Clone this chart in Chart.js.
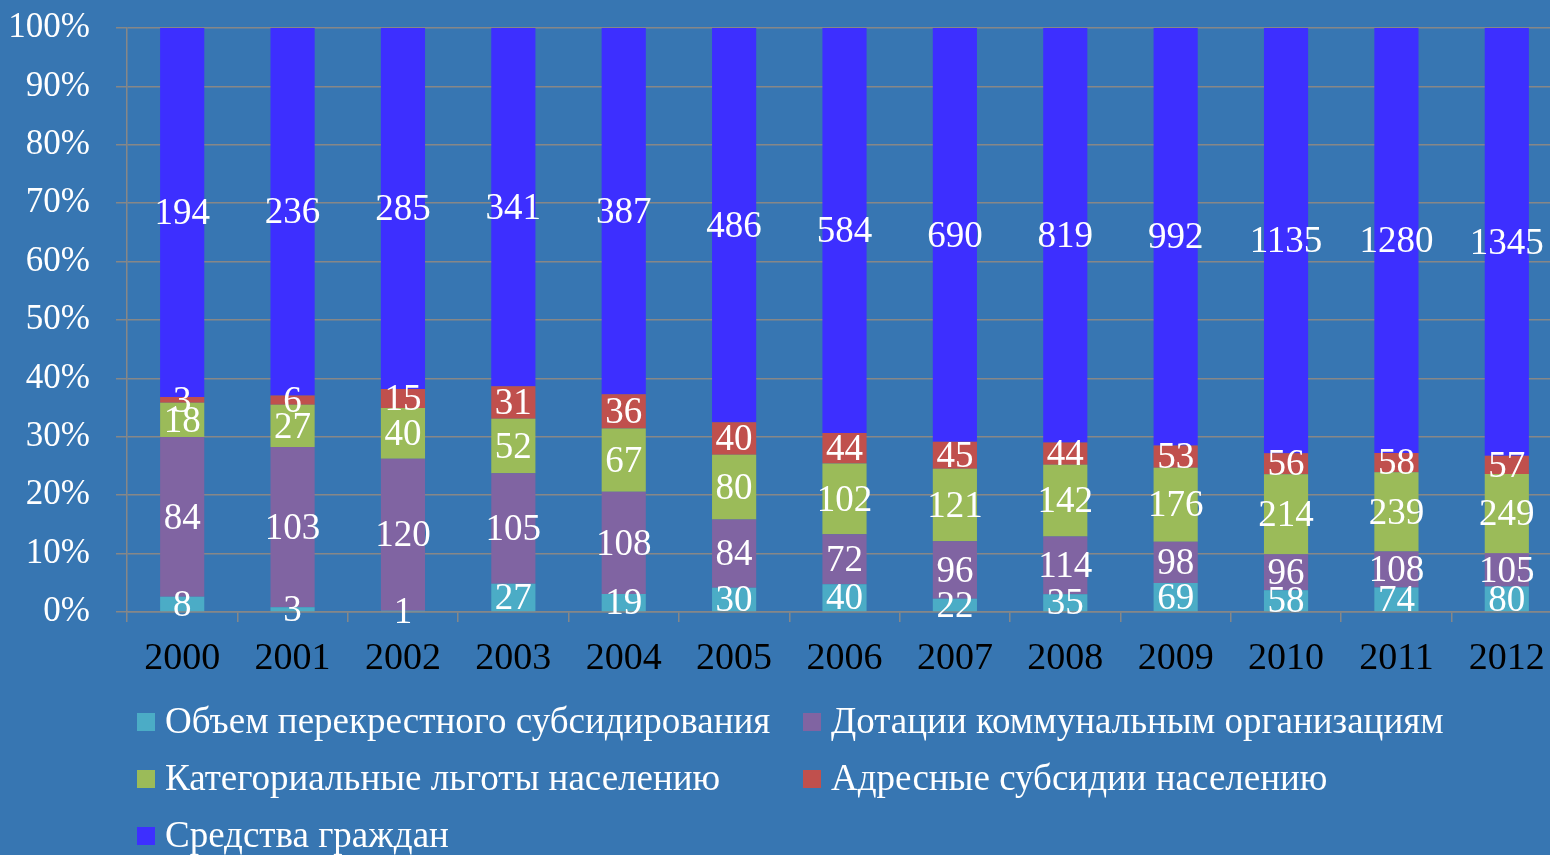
<!DOCTYPE html>
<html lang="ru">
<head>
<meta charset="utf-8">
<title>Структура финансирования ЖКУ</title>
<script src="https://cdn.jsdelivr.net/npm/chart.js@4/dist/chart.umd.min.js"></script>
<style>
    html, body {
        margin: 0;
        padding: 0;
        overflow: hidden;
        background: #3776b2;
    }

    #wrap {
        position: absolute;
        left: 0;
        top: 0;
        width: 1562px;
        height: 855px;
    }
</style>
</head>
<body>

<div id="wrap">
    <canvas id="chart"></canvas>
</div>

<script>
// ==========================================================
// DATA
// ==========================================================

const years = [
    "2000", "2001", "2002", "2003", "2004", "2005", "2006",
    "2007", "2008", "2009", "2010", "2011", "2012"
];

const crossSubsidy = [8, 3, 1, 27, 19, 30, 40, 22, 35, 69, 58, 74, 80];

const utilityGrants = [84, 103, 120, 105, 108, 84, 72, 96, 114, 98, 96, 108, 105];

const categoryBenefits = [18, 27, 40, 52, 67, 80, 102, 121, 142, 176, 214, 239, 249];

const targetedSubsidies = [3, 6, 15, 31, 36, 40, 44, 45, 44, 53, 56, 58, 57];

const citizenFunds = [194, 236, 285, 341, 387, 486, 584, 690, 819, 992, 1135, 1280, 1345];

const seriesNames = [
    "Объем перекрестного субсидирования",
    "Дотации коммунальным организациям",
    "Категориальные льготы населению",
    "Адресные субсидии населению",
    "Средства граждан"
];

const yTicks = [0, 10, 20, 30, 40, 50, 60, 70, 80, 90, 100];

// ==========================================================
// STYLE
// ==========================================================

const FONT = "'Liberation Serif', 'Times New Roman', serif";

const COLORS = ["#4bacc6", "#8064a2", "#9bbb59", "#c0504d", "#3d2fff"];

const GRID_COLOR = "#878787";

// ==========================================================
// PERCENT STACK
// ==========================================================

const rawSeries = [
    crossSubsidy,
    utilityGrants,
    categoryBenefits,
    targetedSubsidies,
    citizenFunds
];

const totals = years.map((y, i) =>
    rawSeries.reduce((sum, s) => sum + s[i], 0)
);

const percentSeries = rawSeries.map(s =>
    s.map((v, i) => v / totals[i] * 100)
);

// ==========================================================
// VALUE LABELS
// ==========================================================

const valueLabels = {
    id: "valueLabels",

    afterDatasetsDraw(chart) {
        const ctx = chart.ctx;

        ctx.save();
        ctx.font = "37px " + FONT;
        ctx.fillStyle = "#ffffff";
        ctx.textAlign = "center";
        ctx.textBaseline = "middle";

        chart.data.datasets.forEach((ds, di) => {
            const meta = chart.getDatasetMeta(di);

            meta.data.forEach((bar, i) => {
                const yMid = (bar.y + bar.base) / 2;
                ctx.fillText(String(rawSeries[di][i]), bar.x, yMid + 2);
            });
        });

        ctx.restore();
    }
};

// ==========================================================
// GRID LEGEND
// ==========================================================

const gridLegend = {
    id: "gridLegend",

    afterDraw(chart) {
        const ctx = chart.ctx;
        const colX = [137, 803];
        const rowY = 722;
        const rowStep = 57;
        const box = 18;

        ctx.save();
        ctx.font = "37px " + FONT;
        ctx.textAlign = "left";
        ctx.textBaseline = "middle";

        chart.data.datasets.forEach((ds, i) => {
            const x = colX[i % 2];
            const y = rowY + Math.floor(i / 2) * rowStep;

            ctx.fillStyle = ds.backgroundColor;
            ctx.fillRect(x, y - box / 2, box, box);

            ctx.fillStyle = "#ffffff";
            ctx.fillText(ds.label, x + box + 10, y + 1);
        });

        ctx.restore();
    }
};

// ==========================================================
// CHART
// ==========================================================

const chart = new Chart(document.getElementById("chart"), {

    type: "bar",

    data: {
        labels: years,

        datasets: percentSeries.map((data, i) => ({
            label: seriesNames[i],
            data: data,
            backgroundColor: COLORS[i],
            borderWidth: 0,
            barPercentage: 0.4,
            categoryPercentage: 1
        }))
    },

    options: {
        responsive: true,
        maintainAspectRatio: false,
        animation: false,

        layout: {
            padding: { top: 28, right: 0, bottom: 0, left: 0 }
        },

        plugins: {
            legend: { display: false },
            tooltip: { enabled: false }
        },

        scales: {
            x: {
                stacked: true,

                afterFit(scale) {
                    scale.height = 243;
                    scale.paddingLeft = 0;
                    scale.paddingRight = 0;
                },

                grid: {
                    offset: true,
                    drawOnChartArea: false,
                    drawTicks: true,
                    tickLength: 10,
                    color: GRID_COLOR,
                    lineWidth: 1.5
                },

                border: {
                    color: GRID_COLOR,
                    width: 1.5
                },

                ticks: {
                    color: "#000000",
                    padding: 14,
                    maxRotation: 0,
                    font: { family: FONT, size: 38 }
                }
            },

            y: {
                stacked: true,
                min: 0,
                max: 100,

                afterFit(scale) {
                    scale.width = 127;
                    scale.paddingTop = 0;
                    scale.paddingBottom = 0;
                },

                afterBuildTicks(scale) {
                    scale.ticks = yTicks.map(v => ({ value: v }));
                },

                grid: {
                    drawTicks: true,
                    tickLength: 11,
                    color: GRID_COLOR,
                    lineWidth: 1.5
                },

                border: {
                    color: GRID_COLOR,
                    width: 1.5
                },

                ticks: {
                    color: "#ffffff",
                    padding: 26,
                    font: { family: FONT, size: 35 },
                    callback: v => v + "%"
                }
            }
        }
    },

    plugins: [valueLabels, gridLegend]
});
</script>
</body>
</html>
